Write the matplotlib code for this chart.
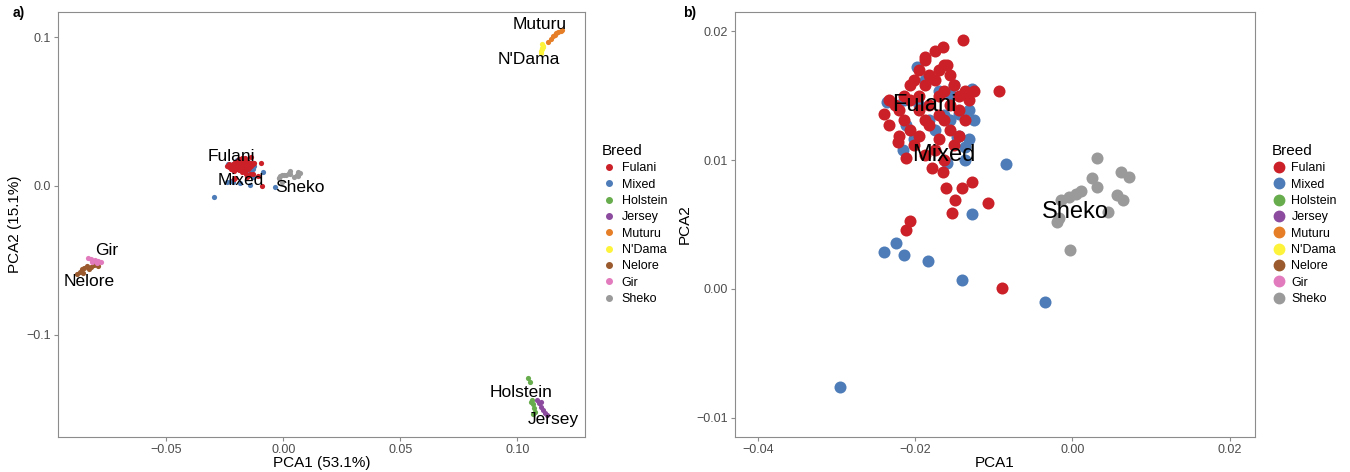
import matplotlib.pyplot as plt
import numpy as np

plt.switch_backend('Agg')
plt.rcParams['font.family'] = ['Liberation Sans', 'DejaVu Sans']

# Breed order and colours
breeds = ['Fulani', 'Mixed', 'Holstein', 'Jersey', 'Muturu', "N'Dama", 'Nelore', 'Gir', 'Sheko']
colors = ['#CB2027', '#4E7CB8', '#67AC4D', '#8C4B9E', '#E57E27', '#FDF33A', '#9A5A2E', '#E27BBD', '#9A9A9A']

# PCA coordinates per breed
fulani_pc1 = [-0.0175, -0.0188, -0.0163, -0.0195, -0.0169, -0.0182, -0.0156, -0.0201, -0.0175, -0.0150,
              -0.0207, -0.0188, -0.0163, -0.0137, -0.0214, -0.0195, -0.0169, -0.0144, -0.0125, -0.0226,
              -0.0207, -0.0182, -0.0156, -0.0131, -0.0220, -0.0195, -0.0169, -0.0144, -0.0214, -0.0188,
              -0.0163, -0.0137, -0.0207, -0.0182, -0.0156, -0.0220, -0.0195, -0.0169, -0.0144, -0.0222,
              -0.0201, -0.0175, -0.0150, -0.0211, -0.0188, -0.0163, -0.0178, -0.0165, -0.0233, -0.0233,
              -0.0093, -0.0139, -0.0089, -0.0211, -0.0206, -0.0153, -0.0107, -0.0149, -0.0161, -0.0140,
              -0.0128, -0.0165, -0.0239, -0.0187, -0.0159]
fulani_pc2 = [0.0185, 0.0178, 0.0174, 0.0170, 0.0170, 0.0166, 0.0166, 0.0162, 0.0162, 0.0158,
              0.0158, 0.0158, 0.0154, 0.0154, 0.0150, 0.0150, 0.0150, 0.0150, 0.0154, 0.0143,
              0.0147, 0.0143, 0.0143, 0.0147, 0.0139, 0.0139, 0.0135, 0.0139, 0.0131, 0.0131,
              0.0131, 0.0131, 0.0123, 0.0127, 0.0123, 0.0119, 0.0119, 0.0116, 0.0119, 0.0114,
              0.0112, 0.0108, 0.0112, 0.0102, 0.0104, 0.0100, 0.0094, 0.0091, 0.0127, 0.0147,
              0.0154, 0.0193, 0.0001, 0.0046, 0.0053, 0.0059, 0.0067, 0.0069, 0.0078, 0.0078,
              0.0083, 0.0188, 0.0136, 0.0180, 0.0174]

mixed_pc1 = [-0.0198, -0.0214, -0.0236, -0.0128, -0.0144, -0.0211, -0.0144, -0.0216, -0.0160, -0.0147,
             -0.0188, -0.0169, -0.0156, -0.0163, -0.0182, -0.0175, -0.0201, -0.0131, -0.0125, -0.0131,
             -0.0137, -0.0150, -0.0195, -0.0156, -0.0137,
             -0.0295, -0.0085, -0.0140, -0.0183, -0.0214, -0.0240, -0.0224, -0.0128, -0.0035]
mixed_pc2 = [0.0172, 0.0147, 0.0145, 0.0155, 0.0136, 0.0127, 0.0119, 0.0108, 0.0098, 0.0118,
             0.0162, 0.0154, 0.0151, 0.0135, 0.0131, 0.0123, 0.0116, 0.0139, 0.0131, 0.0116,
             0.0110, 0.0158, 0.0143, 0.0131, 0.0100,
             -0.0076, 0.0097, 0.0007, 0.0022, 0.0026, 0.0029, 0.0036, 0.0058, -0.0010]

holstein_pc1 = [0.1047, 0.1056, 0.1064, 0.1068, 0.1072, 0.1077, 0.1068, 0.1060]
holstein_pc2 = [-0.1289, -0.1316, -0.1436, -0.1463, -0.1490, -0.1517, -0.1530, -0.1450]

jersey_pc1 = [0.1085, 0.1094, 0.1103, 0.1111, 0.1120, 0.1128, 0.1100]
jersey_pc2 = [-0.1436, -0.1460, -0.1483, -0.1503, -0.1523, -0.1537, -0.1450]

muturu_pc1 = [0.1132, 0.1145, 0.1155, 0.1165, 0.1175, 0.1185, 0.1192, 0.1160]
muturu_pc2 = [0.0966, 0.0990, 0.1010, 0.1025, 0.1035, 0.1042, 0.1047, 0.1015]

ndama_pc1 = [0.1100, 0.1103, 0.1106, 0.1109, 0.1112, 0.1108, 0.1104]
ndama_pc2 = [0.0893, 0.0905, 0.0918, 0.0930, 0.0942, 0.0950, 0.0925]

nelore_pc1 = [-0.0880, -0.0868, -0.0860, -0.0850, -0.0840, -0.0830, -0.0820, -0.0810, -0.0790, -0.0855]
nelore_pc2 = [-0.0590, -0.0575, -0.0560, -0.0550, -0.0540, -0.0555, -0.0545, -0.0530, -0.0540, -0.0585]

gir_pc1 = [-0.0833, -0.0820, -0.0805, -0.0790, -0.0777, -0.0815, -0.0795]
gir_pc2 = [-0.0483, -0.0490, -0.0497, -0.0503, -0.0510, -0.0510, -0.0517]

sheko_pc1 = [0.0031, 0.0062, 0.0072, 0.0025, 0.0031, 0.0011, 0.0005, -0.0004, -0.0014, 0.0057,
             0.0064, 0.0045, -0.0017, -0.0019, -0.0003]
sheko_pc2 = [0.0102, 0.0091, 0.0087, 0.0086, 0.0079, 0.0076, 0.0074, 0.0071, 0.0069, 0.0073,
             0.0069, 0.0060, 0.0055, 0.0052, 0.0030]

pc1 = [fulani_pc1, mixed_pc1, holstein_pc1, jersey_pc1, muturu_pc1, ndama_pc1, nelore_pc1, gir_pc1, sheko_pc1]
pc2 = [fulani_pc2, mixed_pc2, holstein_pc2, jersey_pc2, muturu_pc2, ndama_pc2, nelore_pc2, gir_pc2, sheko_pc2]

# Breed label positions
labels_a = {'Fulani': (-0.0222, 0.0195), 'Mixed': (-0.0180, 0.0040), 'Sheko': (0.0073, -0.0007),
            'Gir': (-0.0756, -0.0436), 'Nelore': (-0.0829, -0.0638), 'Muturu': (0.1098, 0.1087),
            "N'Dama": (0.1051, 0.0852), 'Holstein': (0.1017, -0.1389), 'Jersey': (0.1154, -0.1570)}
labels_b = {'Fulani': (-0.0188, 0.0143), 'Mixed': (-0.0163, 0.0104), 'Sheko': (0.0004, 0.0060)}

fig = plt.figure(figsize=(13.5, 4.72), dpi=100)
ax_a = fig.add_axes([0.043, 0.0742, 0.3904, 0.9004])
ax_b = fig.add_axes([0.5444, 0.0742, 0.3852, 0.9004])


def draw(ax, size, label_pos, fs, leg_ms):
    order = [1, 0, 2, 3, 4, 5, 6, 7, 8]
    for i in order:
        ax.scatter(pc1[i], pc2[i], s=size, color=colors[i], linewidths=0, zorder=2)
    for name, (x, y) in label_pos.items():
        ax.text(x, y, name, fontsize=fs, ha='center', va='center', zorder=5)
    for sp in ax.spines.values():
        sp.set_color('#8C8C8C')
        sp.set_linewidth(0.8)
    ax.tick_params(colors='#8C8C8C', labelcolor='#4D4D4D', labelsize=9, length=3, width=0.8, pad=2)
    handles = [plt.Line2D([], [], marker='o', ls='', color=c, markersize=leg_ms) for c in colors]
    ax.legend(handles, breeds, title='Breed', loc='center left', bbox_to_anchor=(1.01, 0.5),
              frameon=False, fontsize=9, title_fontsize=11, labelspacing=0.35,
              handletextpad=0.4, handlelength=1.2, alignment='left')


draw(ax_a, 14, labels_a, 12.5, 4)
ax_a.set_xlim(-0.0962, 0.129)
ax_a.set_ylim(-0.1685, 0.1168)
ax_a.set_xticks([-0.05, 0.0, 0.05, 0.10])
ax_a.set_xticklabels(['\u22120.05', '0.00', '0.05', '0.10'])
ax_a.set_yticks([-0.1, 0.0, 0.1])
ax_a.set_yticklabels(['\u22120.1', '0.0', '0.1'])
ax_a.set_xlabel('PCA1 (53.1%)', fontsize=11, labelpad=0)
ax_a.set_ylabel('PCA2 (15.1%)', fontsize=11, labelpad=3)

draw(ax_b, 75, labels_b, 17, 7.5)
ax_b.set_xlim(-0.0429, 0.0232)
ax_b.set_ylim(-0.0115, 0.0215)
ax_b.set_xticks([-0.04, -0.02, 0.0, 0.02])
ax_b.set_xticklabels(['\u22120.04', '\u22120.02', '0.00', '0.02'])
ax_b.set_yticks([-0.01, 0.0, 0.01, 0.02])
ax_b.set_yticklabels(['\u22120.01', '0.00', '0.01', '0.02'])
ax_b.set_xlabel('PCA1', fontsize=11, labelpad=0)
ax_b.set_ylabel('PCA2', fontsize=11, labelpad=3)

fig.text(0.009, 0.965, 'a)', fontsize=10, fontweight='bold')
fig.text(0.506, 0.965, 'b)', fontsize=10, fontweight='bold')

fig.savefig('out.png', dpi=100)
